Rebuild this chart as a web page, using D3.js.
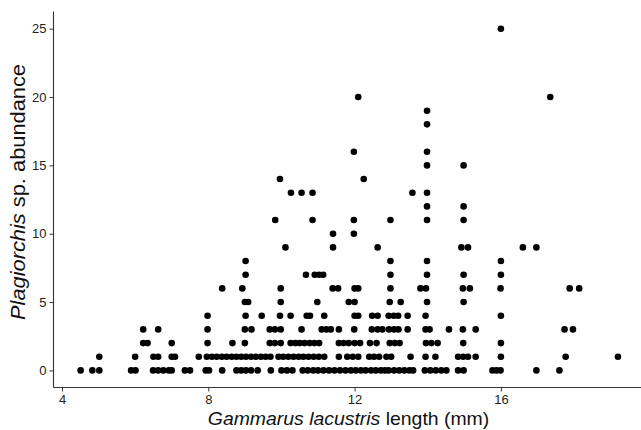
<!DOCTYPE html>
<html>
<head>
<meta charset="utf-8">
<script src="https://cdn.jsdelivr.net/npm/d3@7"></script>
<style>
  body { margin: 0; background: #fff; }
  text { font-family: "Liberation Sans", Arial, sans-serif; }
</style>
</head>
<body>
<svg width="641" height="430"></svg>
<script>
// Gammarus lacustris length (mm) per Plagiorchis abundance level
var len0 = [4.51, 4.83, 5.02, 5.89, 6.01, 6.49, 6.63, 6.77, 6.92, 7.0, 7.36, 7.5, 7.93, 8.02,
  8.38, 8.77, 8.9, 9.03, 9.17, 9.35, 9.71, 10.0, 10.15, 10.3, 10.58, 10.72, 10.87, 11.0,
  11.15, 11.3, 11.45, 11.6, 11.75, 11.9, 12.03, 12.17, 12.3, 12.45, 12.58, 12.72, 12.83,
  12.93, 13.08, 13.22, 13.36, 13.5, 13.6, 13.92, 14.07, 14.22, 14.37, 14.51, 14.83, 14.98,
  15.77, 15.88, 15.99, 16.97, 17.6];
var len1 = [5.02, 6.0, 6.5, 6.63, 7.0, 7.09, 7.74, 7.96, 8.1, 8.23, 8.37, 8.5, 8.64, 8.77,
  8.9, 9.03, 9.17, 9.3, 9.44, 9.57, 9.7, 9.92, 10.05, 10.19, 10.33, 10.47, 10.6, 10.74,
  10.88, 11.02, 11.17, 11.57, 11.8, 11.95, 12.1, 12.4, 12.53, 12.67, 12.87, 13.0, 13.53,
  13.94, 14.21, 14.83, 14.97, 15.1, 15.31, 16.0, 17.77, 19.2];
var len2 = [6.22, 6.34, 7.0, 7.98, 8.66, 9.0, 9.68, 9.82, 9.98, 10.25, 10.38, 10.5, 10.63,
  10.77, 10.9, 11.03, 11.57, 11.7, 11.84, 12.0, 12.15, 12.42, 12.6, 12.96, 13.1, 13.23,
  13.95, 14.1, 14.27, 14.97, 16.0];
var len3 = [6.22, 6.63, 7.98, 9.0, 9.18, 9.68, 9.82, 9.98, 10.55, 11.1, 11.23, 11.35, 11.57,
  11.99, 12.47, 12.63, 12.76, 12.94, 13.08, 13.2, 13.45, 13.94, 14.05, 14.58, 14.96, 15.31,
  17.74, 17.97];
var len4 = [7.98, 9.02, 9.46, 9.96, 10.25, 10.69, 10.78, 11.17, 12.0, 12.1, 12.48, 12.63,
  12.93, 13.07, 13.19, 13.45, 13.94, 16.0];
var len5 = [9.0, 9.09, 9.98, 10.98, 11.84, 12.0, 12.96, 13.26, 13.98, 14.98];
var len6 = [8.38, 8.93, 9.98, 11.4, 11.55, 12.0, 12.1, 12.98, 13.8, 13.95, 14.96, 15.15,
  15.99, 17.88, 18.14];

// sparser upper points as [length, abundance]
var upper = [
  [9.02, 7], [10.67, 7], [10.91, 7], [11.03, 7], [11.14, 7], [12.98, 7], [13.98, 7], [14.98, 7], [16.0, 7],
  [9.02, 8], [12.98, 8], [13.98, 8], [16.0, 8],
  [10.11, 9], [11.41, 9], [12.63, 9], [14.92, 9], [15.1, 9], [16.6, 9], [16.97, 9],
  [11.41, 10], [11.98, 10],
  [9.83, 11], [10.85, 11], [11.98, 11], [12.98, 11], [13.98, 11], [14.98, 11],
  [13.98, 12], [14.98, 12],
  [10.26, 13], [10.55, 13], [10.85, 13], [13.58, 13], [13.98, 13],
  [9.96, 14], [12.25, 14],
  [13.98, 15], [14.98, 15],
  [11.98, 16], [13.98, 16],
  [13.98, 18], [13.98, 19],
  [12.1, 20], [17.35, 20],
  [16.0, 25]
];

var xTicks = [4, 8, 12, 16];
var yTicks = [0, 5, 10, 15, 20, 25];

var points = [];
[len0, len1, len2, len3, len4, len5, len6].forEach(function (arr, i) {
  arr.forEach(function (v) { points.push([v, i]); });
});
points = points.concat(upper);

var svg = d3.select("svg");
var plotLeft = 53.5, plotRight = 641, plotTop = 11.6, plotBottom = 387.5;

var x = d3.scaleLinear().domain([3.768, 19.83]).range([plotLeft, plotRight]);
var y = d3.scaleLinear().domain([-1.25, 26.25]).range([plotBottom, plotTop]);

svg.selectAll(".pt")
  .data(points)
  .enter().append("circle")
    .attr("class", "pt")
    .attr("cx", function (d) { return x(d[0]); })
    .attr("cy", function (d) { return y(d[1]); })
    .attr("r", 3.3)
    .style("fill", "#000");

var xAxis = svg.append("g")
  .attr("transform", "translate(0," + plotBottom + ")")
  .call(d3.axisBottom(x).tickValues(xTicks).tickSize(4).tickPadding(3).tickFormat(d3.format("d")));
var yAxis = svg.append("g")
  .attr("transform", "translate(" + plotLeft + ",0)")
  .call(d3.axisLeft(y).tickValues(yTicks).tickSize(4).tickPadding(3).tickFormat(d3.format("d")));

[xAxis, yAxis].forEach(function (g) {
  g.select(".domain").attr("stroke", "#333").attr("stroke-width", 1.1);
  g.selectAll(".tick line").attr("stroke", "#333");
  g.selectAll(".tick text").style("font-size", "13px").attr("fill", "#222");
});
xAxis.select(".domain").attr("d", "M" + plotLeft + ",0H" + plotRight);
yAxis.select(".domain").attr("d", "M0," + plotTop + "V" + plotBottom);

var xt = svg.append("text")
  .attr("transform", "translate(348.5,425) scale(1.11,1)")
  .attr("text-anchor", "middle")
  .style("font-size", "17.5px")
  .attr("fill", "#111");
xt.append("tspan").style("font-style", "italic").text("Gammarus lacustris");
xt.append("tspan").text(" length (mm)");

var yt = svg.append("text")
  .attr("transform", "translate(24.5,192) rotate(-90) scale(1.12,1)")
  .attr("text-anchor", "middle")
  .style("font-size", "19.5px")
  .attr("fill", "#111");
yt.append("tspan").style("font-style", "italic").text("Plagiorchis");
yt.append("tspan").text(" sp. abundance");
</script>
</body>
</html>
